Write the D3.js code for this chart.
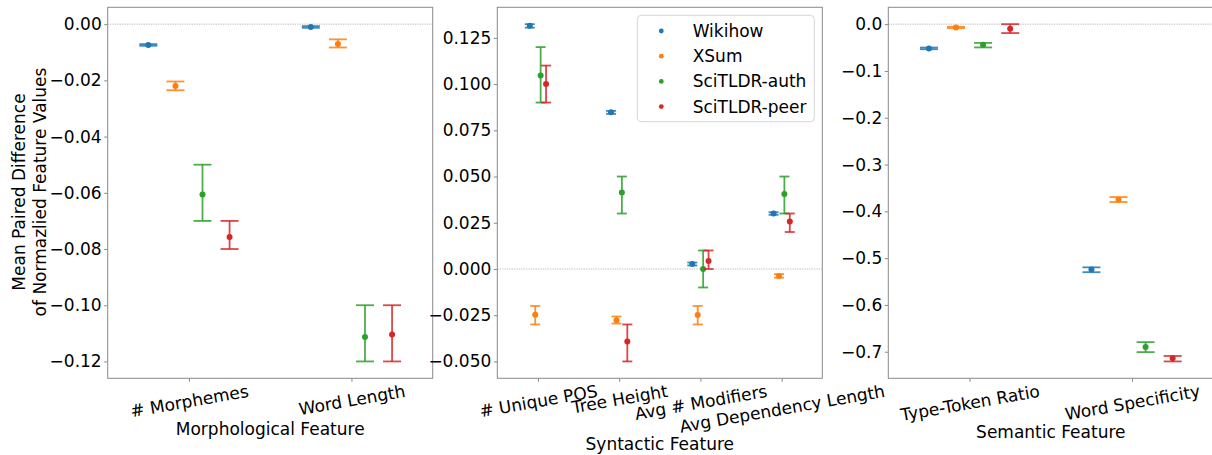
<!DOCTYPE html>
<html>
<head>
<meta charset="utf-8">
<script src="https://cdn.jsdelivr.net/npm/d3@7"></script>
<style>
  html, body { margin: 0; padding: 0; background: #fff; }
  svg { display: block; font-family: "DejaVu Sans", sans-serif; }
</style>
</head>
<body>
<svg id="chart" width="1212" height="455"></svg>
<script>
// ---------------- DATA ----------------
const seriesNames = ["Wikihow", "XSum", "SciTLDR-auth", "SciTLDR-peer"];
const seriesColors = ["#1f77b4", "#ff7f0e", "#2ca02c", "#d62728"];

// Morphological panel
const morphFeatures = ["# Morphemes", "Word Length"];
const morphMean = [[-0.0074, -0.0010], [-0.0220, -0.0071], [-0.0606, -0.1113], [-0.0757, -0.1104]];
const morphLo   = [[-0.0077, -0.0013], [-0.0235, -0.0083], [-0.0700, -0.1200], [-0.0800, -0.1200]];
const morphHi   = [[-0.0071, -0.0007], [-0.0204, -0.0054], [-0.0500, -0.1000], [-0.0700, -0.1000]];
const morphTicks = [0.00, -0.02, -0.04, -0.06, -0.08, -0.10, -0.12];

// Syntactic panel
const syntFeatures = ["# Unique POS", "Tree Height", "Avg # Modifiers", "Avg Dependency Length"];
const syntMean = [[0.1315, 0.0847, 0.0027, 0.0300], [-0.0247, -0.0277, -0.0249, -0.0038], [0.1047, 0.0414, 0.0000, 0.0405], [0.1000, -0.0392, 0.0043, 0.0257]];
const syntLo   = [[0.1305, 0.0839, 0.0019, 0.0293], [-0.0300, -0.0295, -0.0300, -0.0047], [0.0900, 0.0300, -0.0100, 0.0300], [0.0900, -0.0500, 0.0000, 0.0200]];
const syntHi   = [[0.1324, 0.0855, 0.0035, 0.0307], [-0.0200, -0.0257, -0.0200, -0.0028], [0.1200, 0.0500, 0.0100, 0.0500], [0.1100, -0.0300, 0.0100, 0.0300]];
const syntTicks = [0.125, 0.100, 0.075, 0.050, 0.025, 0.000, -0.025, -0.050];

// Semantic panel
const semFeatures = ["Type-Token Ratio", "Word Specificity"];
const semMean = [[-0.0518, -0.5245], [-0.0070, -0.3750], [-0.0440, -0.6900], [-0.0100, -0.7140]];
const semLo   = [[-0.0535, -0.5300], [-0.0085, -0.3800], [-0.0497, -0.7008], [-0.0190, -0.7207]];
const semHi   = [[-0.0500, -0.5196], [-0.0055, -0.3695], [-0.0400, -0.6795], [0.0000, -0.7090]];
const semTicks = [0.0, -0.1, -0.2, -0.3, -0.4, -0.5, -0.6, -0.7];

const panelXLabels = ["Morphological Feature", "Syntactic Feature", "Semantic Feature"];
const yLabelLines = ["Mean Paired Difference", "of Normazlied Feature Values"];

// ---------------- LAYOUT ----------------
const svg = d3.select("#chart");
const FONT = 17;
const plotTop = 7.3, plotBottom = 378.3;
const spineColor = "#8a8a8a";

const panels = [
  { left: 107.7, right: 432.7, features: morphFeatures, mean: morphMean, lo: morphLo, hi: morphHi, ticks: morphTicks, dec: 2, offsets: [-0.25, -0.0833, 0.0833, 0.25], cap: 9, xlabel: panelXLabels[0] },
  { left: 497.3, right: 822.3, features: syntFeatures, mean: syntMean, lo: syntLo, hi: syntHi, ticks: syntTicks, dec: 3, offsets: [-0.1, -0.0333, 0.0333, 0.1], cap: 5, xlabel: panelXLabels[1] },
  { left: 888.3, right: 1213.3, features: semFeatures, mean: semMean, lo: semLo, hi: semHi, ticks: semTicks, dec: 1, offsets: [-0.25, -0.0833, 0.0833, 0.25], cap: 9, xlabel: panelXLabels[2] }
];

const fmtMinus = (dec) => (v) => {
  const s = Math.abs(v) < 1e-12 ? (0).toFixed(dec) : v.toFixed(dec);
  return s.replace("-", "\u2212");
};

const rad = 10 * Math.PI / 180;

panels.forEach((p, pi) => {
  const n = p.features.length;
  const x = d3.scaleLinear().domain([-0.5, n - 0.5]).range([p.left, p.right]);
  const allVals = p.lo.flat().concat(p.hi.flat()).concat([0]);
  const mn = d3.min(allVals), mx = d3.max(allVals);
  const m = (mx - mn) * 0.05;
  const y = d3.scaleLinear().domain([mn - m, mx + m]).range([plotBottom, plotTop]);

  const g = svg.append("g");

  // zero line
  g.append("line")
    .attr("x1", p.left).attr("x2", p.right)
    .attr("y1", y(0)).attr("y2", y(0))
    .attr("stroke", "#9a9a9a").attr("stroke-width", 0.7)
    .attr("stroke-dasharray", "1.2,1.2");

  // error bars + points
  seriesNames.forEach((sName, si) => {
    const col = seriesColors[si];
    const sg = g.append("g");
    p.features.forEach((f, fi) => {
      const cx = x(fi + p.offsets[si]);
      const yl = y(p.lo[si][fi]), yh = y(p.hi[si][fi]);
      sg.append("line").attr("x1", cx).attr("x2", cx).attr("y1", yl).attr("y2", yh)
        .attr("stroke", col).attr("stroke-width", 1.8).attr("stroke-opacity", 0.85);
      [yl, yh].forEach(yy => {
        sg.append("line").attr("x1", cx - p.cap).attr("x2", cx + p.cap).attr("y1", yy).attr("y2", yy)
          .attr("stroke", col).attr("stroke-width", 1.8).attr("stroke-opacity", 0.85);
      });
      sg.append("circle").attr("cx", cx).attr("cy", y(p.mean[si][fi])).attr("r", 3).attr("fill", col);
    });
  });

  // spines
  g.append("rect")
    .attr("x", p.left).attr("y", plotTop)
    .attr("width", p.right - p.left).attr("height", plotBottom - plotTop)
    .attr("fill", "none").attr("stroke", spineColor).attr("stroke-width", 1);

  // y axis
  const ya = g.append("g").attr("transform", `translate(${p.left},0)`)
    .call(d3.axisLeft(y).tickValues(p.ticks).tickFormat(fmtMinus(p.dec)).tickSize(3.5).tickPadding(2.5));
  ya.select(".domain").remove();
  ya.selectAll(".tick line").attr("stroke", spineColor);
  ya.selectAll(".tick text").attr("font-size", FONT).attr("fill", "#000")
    .attr("font-family", "DejaVu Sans");

  // x axis
  const xa = g.append("g").attr("transform", `translate(0,${plotBottom})`)
    .call(d3.axisBottom(x).tickValues(d3.range(n)).tickFormat(i => p.features[i]).tickSize(3.5));
  xa.select(".domain").remove();
  xa.selectAll(".tick line").attr("stroke", spineColor);
  let maxRotH = 0;
  xa.selectAll(".tick text")
    .attr("font-size", FONT).attr("fill", "#000").attr("font-family", "DejaVu Sans")
    .attr("text-anchor", "middle")
    .each(function () {
      const t = d3.select(this);
      const w = this.getComputedTextLength();
      const h = FONT * 1.164;
      const rotH = w * Math.sin(rad) + h * Math.cos(rad);
      maxRotH = Math.max(maxRotH, rotH);
      const cy = (381 - plotBottom) + rotH / 2;
      t.attr("x", 0).attr("y", 0).attr("dy", "0.35em")
        .attr("transform", `translate(0,${cy}) rotate(-10)`);
    });

  // x label
  g.append("text")
    .attr("x", (p.left + p.right) / 2)
    .attr("y", 381 + maxRotH + 7.5)
    .attr("dy", "0.35em")
    .attr("text-anchor", "middle")
    .attr("font-size", FONT)
    .text(p.xlabel);
});

// y label (two lines)
const ylab = svg.append("g").attr("transform", `translate(0,192) rotate(-90)`);
yLabelLines.forEach((line, i) => {
  ylab.append("text")
    .attr("x", 0).attr("y", 19 + i * 21.5)
    .attr("dy", "0.35em")
    .attr("text-anchor", "middle")
    .attr("font-size", FONT)
    .text(line);
});

// legend
const lg = svg.append("g");
lg.append("rect")
  .attr("x", 637.3).attr("y", 15.3).attr("width", 177).attr("height", 106.4)
  .attr("rx", 4).attr("ry", 4)
  .attr("fill", "#fff").attr("fill-opacity", 0.8)
  .attr("stroke", "#d6d6d6").attr("stroke-width", 1);
seriesNames.forEach((s, i) => {
  const cy = 31 + i * 25.2;
  lg.append("circle").attr("cx", 661.3).attr("cy", cy).attr("r", 2.4).attr("fill", seriesColors[i]);
  lg.append("text").attr("x", 692.7).attr("y", cy).attr("dy", "0.35em")
    .attr("font-size", FONT).text(s);
});
</script>
</body>
</html>
